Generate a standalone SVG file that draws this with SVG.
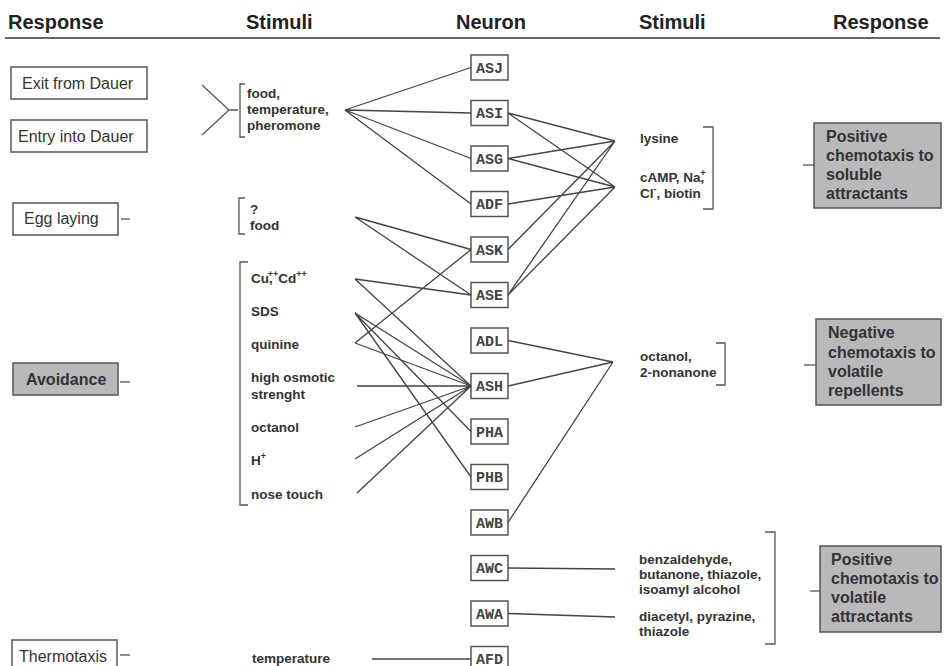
<svg xmlns="http://www.w3.org/2000/svg" width="944" height="666" viewBox="0 0 944 666">
<style>
.hdr{font-family:"Liberation Sans",Arial,sans-serif;font-weight:bold;font-size:20px;fill:#222}
.resp{font-family:"Liberation Sans",Arial,sans-serif;font-size:16px;fill:#333}
.respb{font-family:"Liberation Sans",Arial,sans-serif;font-size:16px;font-weight:bold;fill:#333}
.stim{font-family:"Liberation Sans",Arial,sans-serif;font-size:13.5px;font-weight:bold;fill:#333}
.sup{font-size:9px}
.box{fill:#fff;stroke:#555;stroke-width:1.5}
.gbox{fill:#b9b9bb;stroke:#555;stroke-width:1.5}
.nbox{fill:#fff;stroke:#555;stroke-width:1.5}
.ntxt{font-family:"Liberation Mono","Courier New",monospace;font-weight:bold;font-size:15px;fill:#444;text-anchor:middle}
.ln{stroke:#444;stroke-width:1.3;fill:none}
.br{stroke:#555;stroke-width:1.3;fill:none}
</style>
<rect width="944" height="666" fill="#fff"/>
<g id="header">
<text class="hdr" x="8" y="29">Response</text>
<text class="hdr" x="246" y="29">Stimuli</text>
<text class="hdr" x="456" y="29">Neuron</text>
<text class="hdr" x="639" y="29">Stimuli</text>
<text class="hdr" x="833" y="29">Response</text>
<line x1="5" y1="38" x2="940" y2="38" stroke="#666" stroke-width="2"/>
</g>
<g id="resp-exit"><rect class="box" x="11" y="67" width="136" height="32"/><text class="resp" x="22" y="89">Exit from Dauer</text></g>
<g id="resp-entry"><rect class="box" x="11" y="120" width="136" height="32"/><text class="resp" x="18" y="142">Entry into Dauer</text></g>
<g id="resp-egg"><rect class="box" x="13" y="203" width="105" height="32"/><text class="resp" x="24" y="224">Egg laying</text><line class="br" x1="121" y1="219" x2="130" y2="219"/></g>
<g id="resp-avoid"><rect class="gbox" x="13" y="363" width="105" height="32"/><text class="respb" x="26" y="385">Avoidance</text><line class="br" x1="120" y1="382" x2="130" y2="382"/></g>
<g id="resp-thermo"><rect class="box" x="12" y="640" width="105" height="32"/><text class="resp" x="19" y="662">Thermotaxis</text><line class="br" x1="120" y1="655" x2="130" y2="655"/></g>
<g id="stim-dauer">
<path class="br" d="M202,85 L229,110 L202,135 M229,110 L238,110 M245,84 L240,84 L240,137 L245,137"/>
<text class="stim" x="247" y="98">food,</text>
<text class="stim" x="247" y="114">temperature,</text>
<text class="stim" x="247" y="130">pheromone</text>
</g>
<g id="stim-egg">
<path class="br" d="M245,198 L239,198 L239,234 L245,234"/>
<text class="stim" x="250" y="214">?</text>
<text class="stim" x="250" y="230">food</text>
</g>
<g id="stim-avoid">
<path class="br" d="M248,262 L240,262 L240,505 L248,505"/>
<text class="stim" x="251" y="283">Cu,<tspan class="sup" dx="-5" dy="-6">++</tspan><tspan dy="6">Cd</tspan><tspan class="sup" dy="-6">++</tspan></text>
<text class="stim" x="251" y="316">SDS</text>
<text class="stim" x="251" y="349">quinine</text>
<text class="stim" x="251" y="382">high osmotic</text>
<text class="stim" x="251" y="399">strenght</text>
<text class="stim" x="251" y="432">octanol</text>
<text class="stim" x="251" y="465">H<tspan class="sup" dy="-6">+</tspan></text>
<text class="stim" x="251" y="499">nose touch</text>
</g>
<g id="stim-temp"><text class="stim" x="252" y="663">temperature</text></g>
<g id="neurons">
<g id="n-ASJ"><rect class="nbox" x="471" y="55" width="37" height="25"/><text class="ntxt" x="489.5" y="72.5">ASJ</text></g>
<g id="n-ASI"><rect class="nbox" x="471" y="100.5" width="37" height="25"/><text class="ntxt" x="489.5" y="118">ASI</text></g>
<g id="n-ASG"><rect class="nbox" x="471" y="146" width="37" height="25"/><text class="ntxt" x="489.5" y="163.5">ASG</text></g>
<g id="n-ADF"><rect class="nbox" x="471" y="191.5" width="37" height="25"/><text class="ntxt" x="489.5" y="209">ADF</text></g>
<g id="n-ASK"><rect class="nbox" x="471" y="237" width="37" height="25"/><text class="ntxt" x="489.5" y="254.5">ASK</text></g>
<g id="n-ASE"><rect class="nbox" x="471" y="282.5" width="37" height="25"/><text class="ntxt" x="489.5" y="300">ASE</text></g>
<g id="n-ADL"><rect class="nbox" x="471" y="328" width="37" height="25"/><text class="ntxt" x="489.5" y="345.5">ADL</text></g>
<g id="n-ASH"><rect class="nbox" x="471" y="373.5" width="37" height="25"/><text class="ntxt" x="489.5" y="391">ASH</text></g>
<g id="n-PHA"><rect class="nbox" x="471" y="419" width="37" height="25"/><text class="ntxt" x="489.5" y="436.5">PHA</text></g>
<g id="n-PHB"><rect class="nbox" x="471" y="464.5" width="37" height="25"/><text class="ntxt" x="489.5" y="482">PHB</text></g>
<g id="n-AWB"><rect class="nbox" x="471" y="510" width="37" height="25"/><text class="ntxt" x="489.5" y="527.5">AWB</text></g>
<g id="n-AWC"><rect class="nbox" x="471" y="555.5" width="37" height="25"/><text class="ntxt" x="489.5" y="573">AWC</text></g>
<g id="n-AWA"><rect class="nbox" x="471" y="601" width="37" height="25"/><text class="ntxt" x="489.5" y="618.5">AWA</text></g>
<g id="n-AFD"><rect class="nbox" x="471" y="646.5" width="37" height="25"/><text class="ntxt" x="489.5" y="664">AFD</text></g>
</g>
<g id="stim-soluble">
<text class="stim" x="640" y="143">lysine</text>
<text class="stim" x="640" y="182">cAMP, Na,<tspan class="sup" dx="-4" dy="-6">+</tspan></text>
<text class="stim" x="640" y="198">Cl<tspan class="sup" dy="-6">-</tspan><tspan dy="6">, biotin</tspan></text>
<path class="br" d="M703,127 L713,127 L713,209 L703,209"/>
</g>
<g id="stim-repel">
<text class="stim" x="640" y="361">octanol,</text>
<text class="stim" x="640" y="377">2-nonanone</text>
<path class="br" d="M716,343 L725,343 L725,385 L716,385"/>
</g>
<g id="stim-volatile">
<text class="stim" x="639" y="564">benzaldehyde,</text>
<text class="stim" x="639" y="579">butanone, thiazole,</text>
<text class="stim" x="639" y="594">isoamyl alcohol</text>
<text class="stim" x="639" y="621">diacetyl, pyrazine,</text>
<text class="stim" x="639" y="636">thiazole</text>
<path class="br" d="M765,532 L775,532 L775,644 L765,644"/>
</g>
<g id="resp-soluble"><line class="br" x1="803" y1="165" x2="814" y2="165"/><rect class="gbox" x="814" y="123" width="127" height="85"/>
<text class="respb" x="826" y="142">Positive</text><text class="respb" x="826" y="161">chemotaxis to</text><text class="respb" x="826" y="180">soluble</text><text class="respb" x="826" y="199">attractants</text></g>
<g id="resp-repel"><line class="br" x1="804" y1="365" x2="816" y2="365"/><rect class="gbox" x="816" y="319" width="125" height="86"/>
<text class="respb" x="828" y="338">Negative</text><text class="respb" x="828" y="358">chemotaxis to</text><text class="respb" x="828" y="377">volatile</text><text class="respb" x="828" y="396">repellents</text></g>
<g id="resp-volatile"><line class="br" x1="810" y1="591" x2="820" y2="591"/><rect class="gbox" x="820" y="546" width="121" height="86"/>
<text class="respb" x="831" y="565">Positive</text><text class="respb" x="831" y="584">chemotaxis to</text><text class="respb" x="831" y="603">volatile</text><text class="respb" x="831" y="622">attractants</text></g>
<g id="connectors" class="ln">
<path d="M345,110 L471,67.5 M345,110 L471,113 M345,110 L471,158.5 M345,110 L471,204"/>
<path d="M355,217 L471,249.5 M355,217 L471,295"/>
<path d="M355,279 L471,295 M355,279 L471,386"/>
<path d="M355,313 L471,386 M355,313 L471,431.5 M355,313 L471,477"/>
<path d="M355,343 L471,249.5 M355,343 L471,386"/>
<path d="M357,386 L471,386 M355,427 L471,386 M355,459 L471,386 M357,493 L471,386"/>
<path d="M372,659 L471,659"/>
<path d="M508,113 L615,141 M508,113 L615,187 M508,158.5 L615,141 M508,158.5 L615,187 M508,204 L615,187 M508,249.5 L615,141 M508,295 L615,141 M508,295 L615,187"/>
<path d="M508,340.5 L613,362 M508,386 L613,362 M508,522.5 L613,362"/>
<path d="M508,568 L615,569 M508,613.5 L615,617"/>
</g>
</svg>
